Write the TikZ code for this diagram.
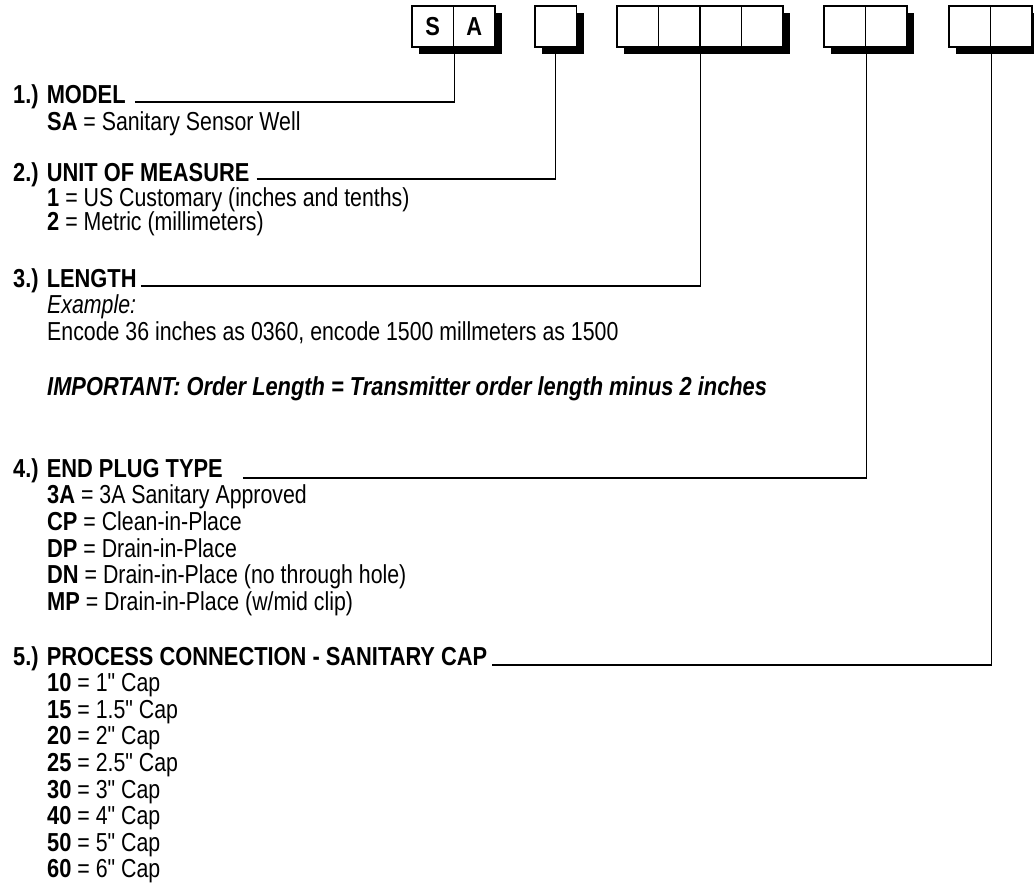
\documentclass[tikz,border=0pt]{standalone}
\usepackage{fontspec}
\setmainfont{Liberation Sans}[
  Ligatures=TeXOff,
  FakeStretch=0.82,
  BoldFeatures={FakeStretch=0.84},
  BoldItalicFeatures={FakeStretch=0.84}]
\usepackage{tikz}
\usetikzlibrary{shadows}
\tikzset{
	cellnode/.style={
			draw=black,
			line width=1.3pt,
			fill=white,
			minimum width=41.5pt,
			minimum height=41pt,
			inner sep=0pt,
			font=\fontsize{26}{28}\selectfont\bfseries,
			drop shadow={shadow xshift=7pt, shadow yshift=-7pt, fill=black, opacity=1}
		},
	headnode/.style={
			anchor=base west,
			inner sep=0pt,
			font=\fontsize{26}{28}\selectfont\bfseries
		},
	itemnode/.style={
			anchor=base west,
			inner sep=0pt,
			font=\fontsize{26}{28}\selectfont
		},
	connector/.style={
			draw=black,
			line width=1.2pt
		}
}

\begin{document}
\begin{tikzpicture}[x=1pt, y=-1pt]
\useasboundingbox (0,0) rectangle (1034,884);

% code boxes
\node[cellnode] (c1) at (432.75,26.5) {S};
\node[cellnode] (c2) at (474.25,26.5) {A};
\node[cellnode] (c3) at (555.75,26.5) {};
\node[cellnode] (c4) at (637.75,26.5) {};
\node[cellnode] (c5) at (679.25,26.5) {};
\node[cellnode] (c6) at (720.75,26.5) {};
\node[cellnode] (c7) at (762.25,26.5) {};
\node[cellnode] (c8) at (844.75,26.5) {};
\node[cellnode] (c9) at (886.25,26.5) {};
\node[cellnode] (c10) at (969.75,26.5) {};
\node[cellnode] (c11) at (1011.25,26.5) {};

% headings
\node[headnode] (h1) at (13,103) {1.) MODEL};
\node[headnode] (h2) at (13,181) {2.) UNIT OF MEASURE};
\node[headnode] (h3) at (13,287) {3.) LENGTH};
\node[headnode] (h4) at (13,477) {4.) END PLUG TYPE};
\node[headnode] (h5) at (13,665) {5.) PROCESS CONNECTION - SANITARY CAP};

% options
\node[itemnode] (m1) at (47,130) {{\bfseries SA} = Sanitary Sensor Well};

\node[itemnode] (u1) at (47,206) {{\bfseries 1} = US Customary (inches and tenths)};
\node[itemnode] (u2) at (47,230) {{\bfseries 2} = Metric (millimeters)};

\node[itemnode] (l1) at (47,313) {\itshape Example:};
\node[itemnode] (l2) at (47,340) {Encode 36 inches as 0360, encode 1500 millmeters as 1500};
\node[itemnode] (l3) at (47,395) {\bfseries\itshape IMPORTANT: Order Length = Transmitter order length minus 2 inches};

\node[itemnode] (p1) at (47,503) {{\bfseries 3A} = 3A Sanitary Approved};
\node[itemnode] (p2) at (47,530) {{\bfseries CP} = Clean-in-Place};
\node[itemnode] (p3) at (47,557) {{\bfseries DP} = Drain-in-Place};
\node[itemnode] (p4) at (47,583) {{\bfseries DN} = Drain-in-Place (no through hole)};
\node[itemnode] (p5) at (47,610) {{\bfseries MP} = Drain-in-Place (w/mid clip)};

\foreach \code/\size [count=\i] in {10/1, 15/1.5, 20/2, 25/2.5, 30/3, 40/4, 50/5, 60/6}
  \node[itemnode] (k\i) at ({47},{665+26.6*\i}) {{\bfseries\code} = \size" Cap};

% leader lines
\draw[connector] ([xshift=9pt,yshift=1pt]h1.base east) -| (c1.south east);
\draw[connector] ([xshift=7pt,yshift=2pt]h2.base east) -| (c3.south);
\draw[connector] ([xshift=4pt,yshift=1pt]h3.base east) -| (c5.south east);
\draw[connector] ([xshift=20pt,yshift=-1pt]h4.base east) -| (c8.south east);
\draw[connector] ([xshift=5pt]h5.base east) -| (c10.south east);
\end{tikzpicture}
\end{document}
